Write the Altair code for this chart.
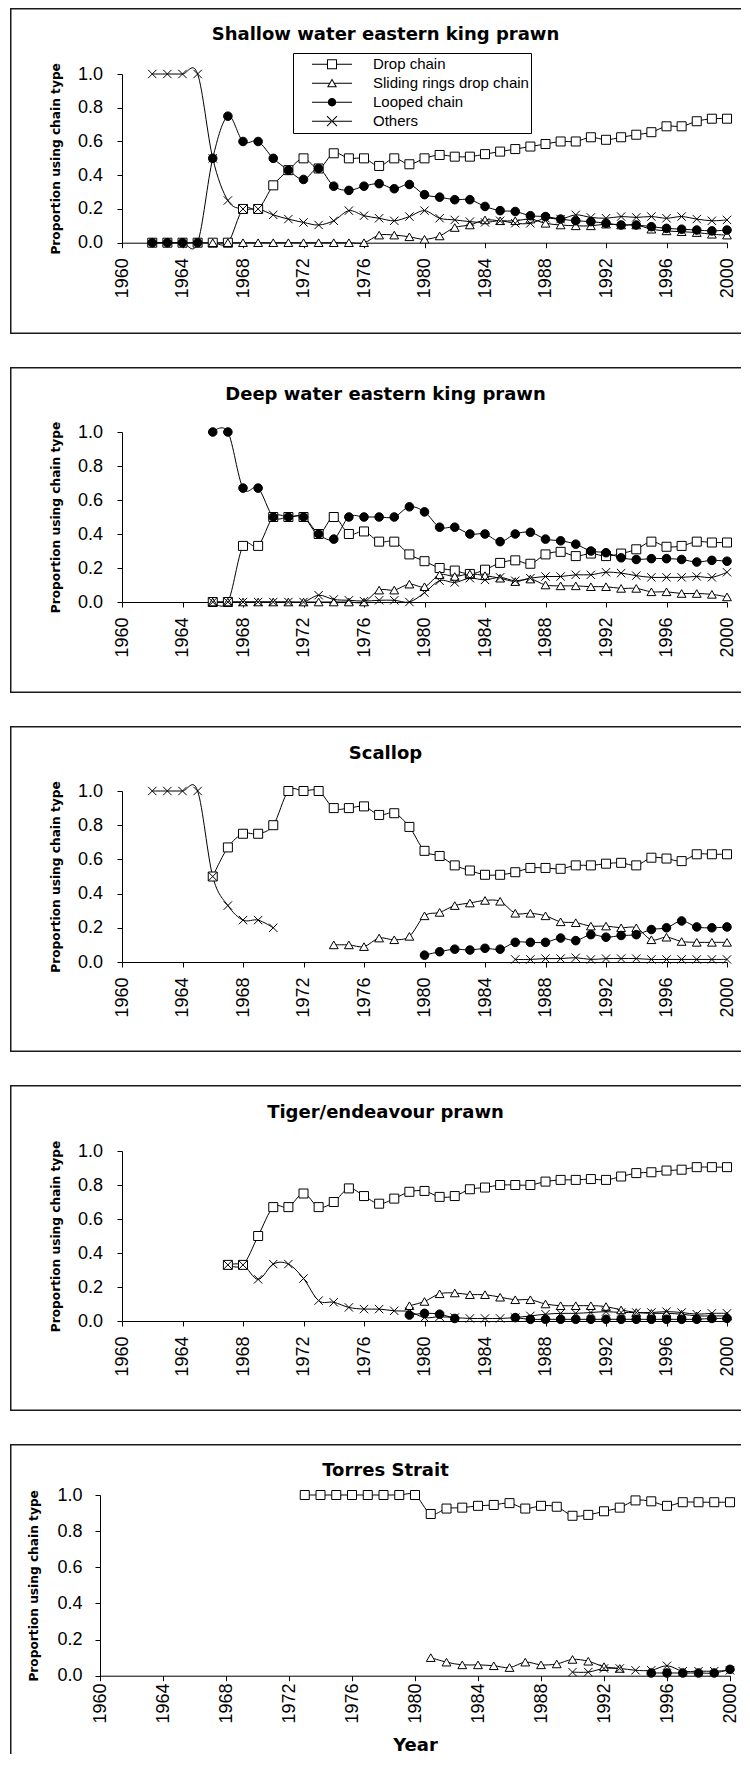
import altair as alt
import pandas as pd

SERIES = ["Drop chain", "Sliding rings drop chain", "Looped chain", "Others"]
N = None

# ---- Shallow water eastern king prawn (1962-2000)
SW_YEARS = list(range(1962, 2001))
SW_DROP = [0, 0, 0, 0, 0, 0, 0.20, 0.20, 0.34, 0.43, 0.50, 0.44, 0.53, 0.50, 0.50, 0.455, 0.50, 0.465,
           0.50, 0.52, 0.51, 0.51, 0.525, 0.54, 0.555, 0.57, 0.585, 0.60, 0.60, 0.625, 0.61, 0.625,
           0.64, 0.655, 0.69, 0.69, 0.72, 0.735, 0.735]
SW_SLIDE = [N, N, N, N, 0, 0, 0, 0, 0, 0, 0, 0, 0, 0, 0, 0.045, 0.045, 0.035, 0.02, 0.04, 0.09, 0.105,
            0.135, 0.13, 0.13, 0.14, 0.115, 0.105, 0.10, 0.10, 0.11, 0.105, 0.105, 0.08, 0.07, 0.065,
            0.06, 0.05, 0.045]
SW_LOOP = [0, 0, 0, 0, 0.5, 0.75, 0.60, 0.60, 0.50, 0.43, 0.375, 0.44, 0.335, 0.31, 0.335, 0.35, 0.32,
           0.345, 0.285, 0.27, 0.255, 0.255, 0.215, 0.19, 0.185, 0.16, 0.155, 0.14, 0.13, 0.125, 0.115,
           0.105, 0.105, 0.095, 0.085, 0.08, 0.075, 0.07, 0.075]
SW_OTHER = [1, 1, 1, 1, 0.5, 0.25, 0.20, 0.20, 0.165, 0.14, 0.12, 0.105, 0.13, 0.19, 0.16, 0.145, 0.13,
            0.155, 0.19, 0.145, 0.135, 0.125, 0.12, 0.13, 0.115, 0.115, 0.145, 0.14, 0.165, 0.15, 0.145,
            0.155, 0.15, 0.155, 0.145, 0.155, 0.14, 0.13, 0.135]

# ---- Deep water eastern king prawn (1966-2000)
DW_YEARS = list(range(1966, 2001))
DW_DROP = [0, 0, 0.33, 0.33, 0.5, 0.5, 0.5, 0.40, 0.50, 0.40, 0.415, 0.355, 0.355, 0.28, 0.24, 0.20,
           0.185, 0.165, 0.19, 0.23, 0.245, 0.225, 0.28, 0.295, 0.27, 0.285, 0.27, 0.285, 0.31, 0.355,
           0.325, 0.33, 0.355, 0.35, 0.35]
DW_SLIDE = [0, 0, 0, 0, 0, 0, 0, 0, 0, 0, 0, 0.07, 0.07, 0.105, 0.09, 0.16, 0.15, 0.165, 0.155, 0.14,
            0.12, 0.135, 0.10, 0.095, 0.095, 0.09, 0.09, 0.08, 0.08, 0.06, 0.06, 0.05, 0.05, 0.045, 0.03]
DW_LOOP = [1.0, 1.0, 0.67, 0.67, 0.5, 0.5, 0.5, 0.40, 0.37, 0.5, 0.5, 0.5, 0.5, 0.56, 0.53, 0.44, 0.44,
           0.40, 0.40, 0.355, 0.40, 0.41, 0.37, 0.36, 0.34, 0.30, 0.29, 0.26, 0.25, 0.255, 0.255, 0.25,
           0.235, 0.245, 0.24]
DW_OTHER = [0, 0, 0, 0, 0, 0, 0, 0.04, 0.015, 0.01, 0.005, 0.01, 0.01, 0.0, 0.055, 0.125, 0.115, 0.14,
            0.13, 0.145, 0.125, 0.14, 0.15, 0.15, 0.16, 0.16, 0.175, 0.17, 0.155, 0.145, 0.145, 0.145,
            0.15, 0.145, 0.175]

# ---- Scallop (1962-2000)
SC_YEARS = list(range(1962, 2001))
SC_DROP = [N, N, N, N, 0.5, 0.67, 0.75, 0.75, 0.80, 1.0, 1.0, 1.0, 0.90, 0.90, 0.91, 0.86, 0.87, 0.79,
           0.65, 0.62, 0.565, 0.535, 0.51, 0.51, 0.525, 0.55, 0.55, 0.545, 0.565, 0.565, 0.575, 0.58,
           0.565, 0.61, 0.605, 0.59, 0.63, 0.63, 0.63]
SC_SLIDE = [N] * 12 + [0.10, 0.10, 0.09, 0.14, 0.13, 0.15, 0.27, 0.29, 0.33, 0.345, 0.36, 0.355, 0.285,
                       0.285, 0.27, 0.235, 0.23, 0.21, 0.21, 0.20, 0.20, 0.13, 0.145, 0.12, 0.115,
                       0.115, 0.115]
SC_LOOP = [N] * 18 + [0.04, 0.06, 0.075, 0.07, 0.08, 0.075, 0.115, 0.115, 0.115, 0.14, 0.125, 0.16,
                      0.145, 0.155, 0.16, 0.19, 0.20, 0.24, 0.205, 0.20, 0.205]
SC_OTHER = [1, 1, 1, 1, 0.5, 0.33, 0.245, 0.245, 0.20] + [N] * 15 + \
           [0.015, 0.015, 0.02, 0.02, 0.025, 0.015, 0.02, 0.02, 0.02, 0.015, 0.015, 0.015, 0.015,
            0.015, 0.015]

# ---- Tiger/endeavour prawn (1967-2000)
TG_YEARS = list(range(1967, 2001))
TG_DROP = [0.33, 0.33, 0.50, 0.67, 0.67, 0.75, 0.67, 0.70, 0.78, 0.735, 0.69, 0.72, 0.76, 0.765, 0.73,
           0.735, 0.775, 0.785, 0.80, 0.80, 0.80, 0.82, 0.83, 0.83, 0.835, 0.83, 0.85, 0.87, 0.875,
           0.885, 0.89, 0.905, 0.905, 0.905]
TG_SLIDE = [N] * 12 + [0.09, 0.115, 0.16, 0.165, 0.155, 0.155, 0.14, 0.125, 0.125, 0.10, 0.09, 0.09,
                       0.09, 0.085, 0.065, 0.05, 0.045, 0.045, 0.04, 0.03, 0.03, 0.03]
TG_LOOP = [N] * 12 + [0.035, 0.045, 0.04, 0.015, N, N, N, 0.02, 0.01, 0.01, 0.01, 0.01, 0.01, 0.01,
                      0.01, 0.01, 0.01, 0.01, 0.01, 0.01, 0.015, 0.015]
TG_OTHER = [0.33, 0.33, 0.245, 0.335, 0.335, 0.25, 0.12, 0.11, 0.08, 0.07, 0.07, 0.06, 0.055, 0.02,
            0.025, 0.02, 0.015, 0.015, 0.015, 0.02, 0.03, 0.04, 0.045, 0.045, 0.05, 0.055, 0.05, 0.05,
            0.05, 0.055, 0.05, 0.04, 0.045, 0.045]

# ---- Torres Strait (1973-2000)
TS_YEARS = list(range(1973, 2001))
TS_DROP = [1, 1, 1, 1, 1, 1, 1, 1, 0.895, 0.925, 0.93, 0.94, 0.945, 0.955, 0.925, 0.94, 0.935, 0.885,
           0.89, 0.91, 0.93, 0.97, 0.965, 0.94, 0.96, 0.96, 0.96, 0.96]
TS_SLIDE = [N] * 8 + [0.10, 0.075, 0.06, 0.06, 0.055, 0.045, 0.075, 0.06, 0.065, 0.09, 0.08, 0.05,
                      0.04] + [N] * 7
TS_LOOP = [N] * 22 + [0.015, 0.015, 0.015, 0.015, 0.015, 0.035]
TS_OTHER = [N] * 17 + [0.02, 0.02, 0.04, 0.04, 0.03, 0.03, 0.055, 0.025, 0.025, 0.025, 0.03]

YEAR_TICKS = list(range(1960, 2001, 4))
Y_TICKS = [0, 0.2, 0.4, 0.6, 0.8, 1.0]

# marker styling
PT_SHAPES = ["square", "triangle-up", "circle", "M-1,-1L1,1M1,-1L-1,1"]
PT_FILLS = ["white", "white", "black", "transparent"]
PT_SIZES = [81, 70, 81, 72]

# legend symbols: line + marker, built from filled outlines (units: 1 = 20px)
LINE_L = "M-1,-0.025H{a}V0.025H-1Z"
LINE_R = "M{b},-0.025H1V0.025H{b}Z"
LEG_SQUARE = (LINE_L.format(a=-0.25) + LINE_R.format(b=0.25) +
              "M-0.25,-0.25H0.25V0.25H-0.25Z M-0.2,-0.2V0.2H0.2V-0.2Z")
LEG_TRI = (LINE_L.format(a=-0.13) + LINE_R.format(b=0.13) +
           "M-0.25,0.2L0,-0.23L0.25,0.2Z M-0.163,0.15L0.163,0.15L0,-0.131Z")
LEG_CIRC = ("M-1,-0.025H1V0.025H-1Z "
            "M-0.21,0A0.21,0.21 0 1,1 0.21,0A0.21,0.21 0 1,1 -0.21,0Z")
LEG_X = ("M-1,-0.025H1V0.025H-1Z "
         "M-0.232,-0.268L0.268,0.232L0.232,0.268L-0.268,-0.232Z "
         "M-0.232,0.268L0.268,-0.232L0.232,-0.268L-0.268,0.232Z")
LEG_SHAPES = [LEG_SQUARE, LEG_TRI, LEG_CIRC, LEG_X]

W = 731
FRAME = "#1a1a1a"
TITLE_X = 375

PANELS = [
    dict(title="Shallow water eastern king prawn", years=SW_YEARS,
         vals=[SW_DROP, SW_SLIDE, SW_LOOP, SW_OTHER], h=326, xr=[112, 717], yr=[234.7, 66],
         xpad=10, ypad=14.5, ty=31.5, legend=True, bottom=True, xtitle=False),
    dict(title="Deep water eastern king prawn", years=DW_YEARS,
         vals=[DW_DROP, DW_SLIDE, DW_LOOP, DW_OTHER], h=326, xr=[112, 717], yr=[235, 65],
         xpad=10, ypad=14.5, ty=32.5, legend=False, bottom=True, xtitle=False),
    dict(title="Scallop", years=SC_YEARS,
         vals=[SC_DROP, SC_SLIDE, SC_LOOP, SC_OTHER], h=326, xr=[112, 717], yr=[236, 65],
         xpad=10, ypad=14.5, ty=32, legend=False, bottom=True, xtitle=False),
    dict(title="Tiger/endeavour prawn", years=TG_YEARS,
         vals=[TG_DROP, TG_SLIDE, TG_LOOP, TG_OTHER], h=326, xr=[112, 717], yr=[236, 66],
         xpad=10, ypad=14.5, ty=32, legend=False, bottom=True, xtitle=False),
    dict(title="Torres Strait", years=TS_YEARS,
         vals=[TS_DROP, TS_SLIDE, TS_LOOP, TS_OTHER], h=310, xr=[90, 720], yr=[231.7, 51],
         xpad=2.3, ypad=13, ty=31.5, legend=False, bottom=False, xtitle=True),
]


def to_frame(years, vals):
    rows = []
    for k, (name, series) in enumerate(zip(SERIES, vals)):
        seg, gap = 0, True
        for yr, v in zip(years, series):
            if v is None:
                gap = True
                continue
            if gap:
                seg += 1
                gap = False
            rows.append({"year": yr, "value": v, "series": name,
                         "seg": f"{name}-{seg}", "k": k})
    return pd.DataFrame(rows)


def make_panel(p):
    df = to_frame(p["years"], p["vals"])
    h = p["h"]
    xscale = alt.Scale(domain=[1960, 2000], range=p["xr"], nice=False, zero=False)

    bottom_axis = dict(values=YEAR_TICKS, format="d", labelAngle=-90, labelFlush=False,
                       labelOverlap=False, offset=-(h - p["yr"][0]), tickSize=5,
                       labelPadding=p["xpad"], grid=False)
    if p["xtitle"]:
        bottom_axis.update(title="Year", titleY=74.3, titleBaseline="alphabetic",
                           titleFontSize=18)
    else:
        bottom_axis.update(title=None)

    # panel title carried by a label-less top axis
    top_axis = alt.Axis(orient="top", domain=False, ticks=False, labels=False, grid=False,
                        offset=0, minExtent=0, maxExtent=0, title=p["title"],
                        titleX=TITLE_X, titleY=p["ty"], titleBaseline="alphabetic",
                        titleAlign="center", titleFontSize=18, titleFont="DejaVu Sans",
                        titleFontWeight="bold", titleColor="black")

    y = alt.Y("value:Q", scale=alt.Scale(domain=[0, 1], range=p["yr"], nice=False, zero=False),
              axis=alt.Axis(values=Y_TICKS, format=".1f", offset=-p["xr"][0], tickSize=5,
                            labelPadding=p["ypad"], grid=False,
                            title="Proportion using chain type", titleX=-60,
                            titleFontSize=12.2))

    lines = alt.Chart(df).mark_line(interpolate="cardinal", color="black", strokeWidth=1).encode(
        x=alt.X("year:Q", scale=xscale, axis=top_axis), y=y, detail="seg:N")
    points = alt.Chart(df).mark_point(filled=True, stroke="black", strokeWidth=1, opacity=1).encode(
        x=alt.X("year:Q", scale=xscale, axis=alt.Axis(**bottom_axis)), y=y,
        shape=alt.Shape("series:N", scale=alt.Scale(domain=SERIES, range=PT_SHAPES), legend=None),
        fill=alt.Fill("series:N", scale=alt.Scale(domain=SERIES, range=PT_FILLS), legend=None),
        size=alt.Size("series:N", scale=alt.Scale(domain=SERIES, range=PT_SIZES), legend=None),
        order=alt.Order("k:Q"))

    frame_df = pd.DataFrame({"edge": [0]})
    rules = [
        alt.Chart(frame_df).mark_rule(color=FRAME, strokeWidth=1.5).encode(
            x=alt.value(0), x2=alt.value(W), y=alt.value(0.75)),
        alt.Chart(frame_df).mark_rule(color=FRAME, strokeWidth=1.5).encode(
            x=alt.value(0.75), y=alt.value(0), y2=alt.value(h)),
    ]
    if p["bottom"]:
        rules.append(alt.Chart(frame_df).mark_rule(color=FRAME, strokeWidth=1.5).encode(
            x=alt.value(0), x2=alt.value(W), y=alt.value(h - 0.75)))

    layers = rules + [lines, points]
    if p["legend"]:
        leg = alt.Chart(df).transform_filter("false").mark_point(
            filled=True, color="black", opacity=1, strokeWidth=0).encode(
            x=alt.X("year:Q", scale=xscale, axis=None), y=y,
            shape=alt.Shape("series:N", scale=alt.Scale(domain=SERIES, range=LEG_SHAPES),
                            legend=alt.Legend(
                                title=None, orient="none", legendX=283, legendY=45, padding=2,
                                strokeColor="black", fillColor="white", clipHeight=18.4,
                                rowPadding=0, symbolSize=1600, symbolOffset=17, labelOffset=21,
                                labelFont="Liberation Sans", labelFontSize=15, labelColor="black",
                                labelBaseline="middle", labelLimit=400,
                                labelExpr="datum.label + '\u00a0\u00a0\u00a0\u00a0\u00a0'",
                                symbolFillColor="black", symbolStrokeColor="black",
                                symbolStrokeWidth=0, symbolOpacity=1)))
        layers.append(leg)

    ch = alt.layer(*layers).resolve_scale(shape="independent", fill="independent",
                                           size="independent").resolve_axis(x="independent")
    return ch.properties(width=W, height=h)


chart = alt.vconcat(*[make_panel(p) for p in PANELS], spacing=33, bounds="flush").resolve_scale(
    x="independent", y="independent", shape="independent", fill="independent", size="independent"
).resolve_axis(x="independent", y="independent").resolve_legend(
    shape="independent", fill="independent", size="independent"
).properties(
    padding={"left": 2, "top": 0, "right": 0, "bottom": 0}, background="white"
).configure_view(stroke=None, clip=True).configure_axis(
    labelFont="Liberation Sans", labelFontSize=18, labelColor="black", domainColor="black",
    tickColor="black", titleColor="black", titleFont="DejaVu Sans", titleFontWeight="bold",
    grid=False
)

chart.save("out.html", embed_options={"renderer": "svg", "actions": False})
